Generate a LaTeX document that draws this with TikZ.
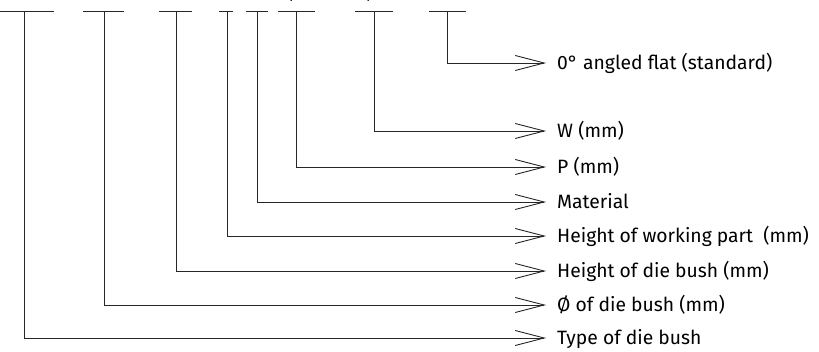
\documentclass[tikz,border=0pt]{standalone}
\usepackage{fontspec}
\setmainfont{Fira Sans}
\usetikzlibrary{arrows.meta}
\begin{document}
\begin{tikzpicture}[x=1pt, y=-1pt,
  bar/.style={line width=0.9pt, draw=black!85},
  lead/.style={line width=0.9pt, draw=black!85,
    -{Straight Barb[length=29pt, width=15pt]}, shorten >=11pt},
  lbl/.style={anchor=west, inner xsep=0pt, inner ysep=0pt,
    text height=13.2pt, text depth=0pt, font=\fontsize{19.3}{21}\selectfont}]
  \useasboundingbox (0,0) rectangle (819,352);
  \clip (0,0) rectangle (819,352);

  % code segments along the top
  \draw[bar] (0,11) -- (54,11);
  \draw[bar] (83,11) -- (124,11);
  \draw[bar] (159,11) -- (192,11);
  \draw[bar] (219,11) -- (233,11);
  \draw[bar] (246,11) -- (268,11);
  \draw[bar] (278,11) -- (315,11);
  \draw[bar] (355,11) -- (393,11);
  \draw[bar] (429,11) -- (466,11);

  % separators between the code parts
  \node[inner sep=0pt, anchor=base, font=\fontsize{18}{20}\selectfont] (c1) at (292,-1) {,};
  \node[inner sep=0pt, anchor=base, font=\fontsize{18}{20}\selectfont] (c2) at (369,-1) {,};

  % lead-off points
  \coordinate (s1) at (24,11);
  \coordinate (s2) at (104,11);
  \coordinate (s3) at (176,11);
  \coordinate (s4) at (227,11);
  \coordinate (s5) at (257,11);
  \coordinate (s6) at (296,11);
  \coordinate (s7) at (374,11);
  \coordinate (s8) at (447,11);

  % explanations
  \node[lbl] (l8) at (557,63)  {0° angled flat (standard)};
  \node[lbl] (l7) at (557,131) {W (mm)};
  \node[lbl] (l6) at (557,167) {P (mm)};
  \node[lbl] (l5) at (557,202) {Material};
  \node[lbl] (l4) at (557,236) {Height of working part \ (mm)};
  \node[lbl] (l3) at (557,271) {Height of die bush (mm)};
  \node[lbl] (l2) at (557,305) {Ø of die bush (mm)};
  \node[lbl] (l1) at (557,338) {Type of die bush};

  \foreach \i in {1,...,8}
    \draw[lead] (s\i) |- (l\i.west);
\end{tikzpicture}
\end{document}
